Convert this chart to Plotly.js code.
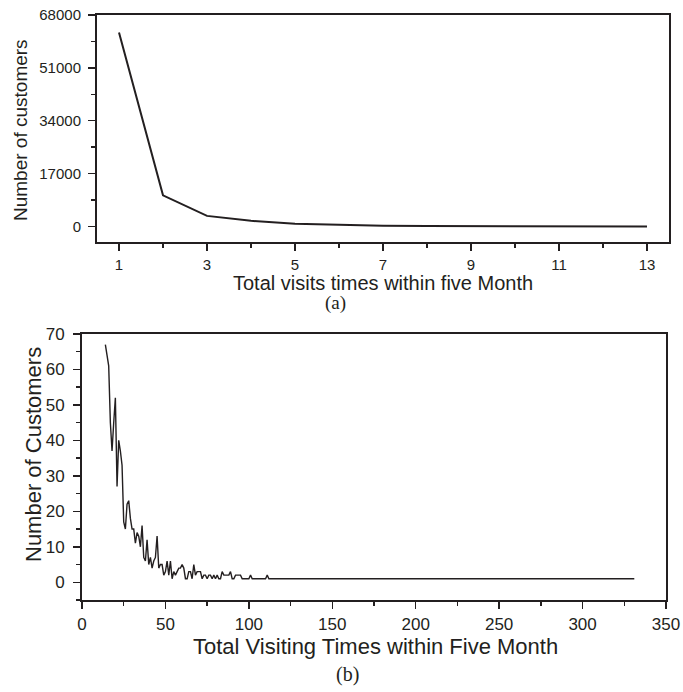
<!DOCTYPE html>
<html>
<head>
<meta charset="utf-8">
<script src="https://cdn.plot.ly/plotly-3.0.1.min.js"></script>
<style>
html,body{margin:0;padding:0;background:#fff;}
#chart{width:683px;height:692px;}
</style>
</head>
<body>
<div id="chart"></div>
<script>
// (a) visits 1..13 vs number of customers
const visitsA = [1, 2, 3, 4, 5, 6, 7, 8, 9, 10, 11, 12, 13];
const customersA = [62400, 10000, 3400, 1800, 900, 450, 230, 130, 80, 50, 30, 18, 10];
const yTicksA = [0, 17000, 34000, 51000, 68000];
const yTickTextA = ['0', '17000', '34000', '51000', '68000'];
const xTicksA = [1, 3, 5, 7, 9, 11, 13];

// (b) total visiting times vs number of customers
const visitsB = [14, 15, 16, 17, 18, 19, 20, 21, 22, 23, 24, 25, 26, 27, 28, 29, 30,
  31, 32, 33, 34, 35, 36, 37, 38, 39, 40, 41, 42, 43, 44, 45, 46, 47, 48, 49, 50,
  51, 52, 53, 54, 55, 56, 57, 58, 59, 60, 61, 62, 63, 64, 65, 66, 67, 68, 69, 70,
  71, 72, 73, 74, 75, 76, 77, 78, 79, 80, 81, 82, 83, 84, 85, 86, 87, 88, 89, 90,
  91, 92, 93, 94, 95, 96, 97, 98, 99, 100, 101, 102, 103, 104, 105, 106, 107, 108,
  109, 110, 111, 112, 114, 117, 121, 125, 130, 138, 145, 153, 162, 170, 184, 196,
  210, 228, 245, 262, 280, 301, 331];
const customersB = [67, 64, 61, 45, 37, 45, 52, 27, 40, 37, 33, 17, 15, 22, 23, 18, 15,
  15, 11, 14, 13, 10, 16, 7, 6, 12, 5, 7, 4, 6, 7, 13, 4, 5, 5, 2, 3,
  6, 2, 6, 1, 3, 2, 3, 4, 4, 5, 4, 1, 1, 3, 3, 1, 5, 2, 3, 3,
  3, 1, 2, 2, 1, 2, 2, 1, 2, 1, 2, 1, 1, 3, 2, 2, 2, 2, 3, 1,
  1, 2, 2, 2, 2, 1, 1, 1, 1, 1, 2, 1, 1, 1, 1, 1, 1, 1,
  1, 1, 2, 1, 1, 1, 1, 1, 1, 1, 1, 1, 1, 1, 1, 1,
  1, 1, 1, 1, 1, 1, 1];
const yTicksB = [0, 10, 20, 30, 40, 50, 60, 70];
const xTicksB = [0, 50, 100, 150, 200, 250, 300, 350];

const INK = '#231f20';
const SANS = '"Liberation Sans", Arial, sans-serif';
const SERIF = '"Liberation Serif", "Times New Roman", serif';

const W = 683, H = 692;
const dxA = [97 / W, 669 / W], dyA = [1 - 242 / H, 1 - 15 / H];
const dxB = [82 / W, 666 / W], dyB = [1 - 600 / H, 1 - 334 / H];

function baseAxis(extra) {
  return Object.assign({
    showgrid: false, zeroline: false, showline: true, linecolor: INK, linewidth: 2,
    ticks: 'outside', ticklen: 7, tickwidth: 1.5, tickcolor: INK, mirror: true,
    tickmode: 'array', fixedrange: true
  }, extra);
}

const traces = [
  {x: visitsA, y: customersA, type: 'scatter', mode: 'lines', xaxis: 'x', yaxis: 'y',
   line: {color: INK, width: 2}, hoverinfo: 'skip', showlegend: false},
  {x: visitsB, y: customersB, type: 'scatter', mode: 'lines', xaxis: 'x2', yaxis: 'y2',
   line: {color: INK, width: 1.4}, hoverinfo: 'skip', showlegend: false}
];

const layout = {
  width: W, height: H, margin: {l: 0, r: 0, t: 0, b: 0},
  paper_bgcolor: '#fff', plot_bgcolor: '#fff', showlegend: false,
  font: {family: SANS, color: INK},
  xaxis: baseAxis({domain: dxA, anchor: 'y', range: [0.5, 13.5], tickvals: xTicksA,
    tickfont: {size: 15, family: SANS, color: INK}, ticklabelstandoff: 1,
    minor: {tickmode: 'linear', tick0: 0, dtick: 2, ticks: 'outside', ticklen: 4, tickwidth: 1.5, tickcolor: INK}}),
  yaxis: baseAxis({domain: dyA, anchor: 'x', range: [-5000, 68000], tickvals: yTicksA, ticktext: yTickTextA,
    tickfont: {size: 15, family: SANS, color: INK}, ticklabelstandoff: 4,
    minor: {tickmode: 'linear', tick0: 8500, dtick: 17000, ticks: 'outside', ticklen: 4, tickwidth: 1.5, tickcolor: INK}}),
  xaxis3: {overlaying: 'x', anchor: 'y', side: 'top', range: [0.5, 13.5], showgrid: false, zeroline: false,
    showline: false, showticklabels: false, ticks: 'inside', ticklen: 7, tickwidth: 1.5, tickcolor: INK,
    tickmode: 'linear', tick0: 0, dtick: 2, fixedrange: true,
    minor: {tickmode: 'linear', tick0: 1, dtick: 2, ticks: 'inside', ticklen: 4, tickwidth: 1.5, tickcolor: INK}},
  yaxis3: {overlaying: 'y', anchor: 'x', side: 'right', range: [-5000, 68000], showgrid: false, zeroline: false,
    showline: false, showticklabels: false, ticks: 'inside', ticklen: 7, tickwidth: 1.5, tickcolor: INK,
    tickmode: 'linear', tick0: 0, dtick: 17000, fixedrange: true,
    minor: {tickmode: 'linear', tick0: 8500, dtick: 17000, ticks: 'inside', ticklen: 4, tickwidth: 1.5, tickcolor: INK}},

  xaxis2: baseAxis({domain: dxB, anchor: 'y2', range: [0, 350], tickvals: xTicksB,
    tickfont: {size: 17, family: SANS, color: INK}, ticklabelstandoff: 1,
    minor: {tickmode: 'linear', tick0: 25, dtick: 50, ticks: 'outside', ticklen: 4, tickwidth: 1.5, tickcolor: INK}}),
  yaxis2: baseAxis({domain: dyB, anchor: 'x2', range: [-5, 70], tickvals: yTicksB,
    tickfont: {size: 17, family: SANS, color: INK}, ticklabelstandoff: 5,
    minor: {tickmode: 'linear', tick0: 5, dtick: 10, ticks: 'outside', ticklen: 4, tickwidth: 1.5, tickcolor: INK}}),
  xaxis4: {overlaying: 'x2', anchor: 'y2', side: 'top', range: [0, 350], showgrid: false, zeroline: false,
    showline: false, showticklabels: false, ticks: 'inside', ticklen: 7, tickwidth: 1.5, tickcolor: INK,
    tickmode: 'linear', tick0: 0, dtick: 70, fixedrange: true,
    minor: {tickmode: 'linear', tick0: 35, dtick: 70, ticks: 'inside', ticklen: 4, tickwidth: 1.5, tickcolor: INK}},
  yaxis4: {overlaying: 'y2', anchor: 'x2', side: 'right', range: [-5, 70], showgrid: false, zeroline: false,
    showline: false, showticklabels: false, ticks: 'inside', ticklen: 7, tickwidth: 1.5, tickcolor: INK,
    tickmode: 'linear', tick0: -5, dtick: 15, fixedrange: true,
    minor: {tickmode: 'linear', tick0: 2.5, dtick: 15, ticks: 'inside', ticklen: 4, tickwidth: 1.5, tickcolor: INK}},

  annotations: [
    {text: 'Total visits times within five Month', xref: 'paper', yref: 'paper',
     x: 383 / W, y: 1 - 283 / H, xanchor: 'center', yanchor: 'middle', showarrow: false,
     font: {size: 20, family: SANS, color: INK}},
    {text: 'Number of customers', xref: 'paper', yref: 'paper', textangle: -90,
     x: 20 / W, y: 1 - 130 / H, xanchor: 'center', yanchor: 'middle', showarrow: false,
     font: {size: 19, family: SANS, color: INK}},
    {text: '(a)', xref: 'paper', yref: 'paper',
     x: 335 / W, y: 1 - 303 / H, xanchor: 'center', yanchor: 'middle', showarrow: false,
     font: {size: 19, family: SERIF, color: INK}},
    {text: 'Total Visiting Times within Five Month', xref: 'paper', yref: 'paper',
     x: 375 / W, y: 1 - 646 / H, xanchor: 'center', yanchor: 'middle', showarrow: false,
     font: {size: 22, family: SANS, color: INK}},
    {text: 'Number of Customers', xref: 'paper', yref: 'paper', textangle: -90,
     x: 33 / W, y: 1 - 455 / H, xanchor: 'center', yanchor: 'middle', showarrow: false,
     font: {size: 22, family: SANS, color: INK}},
    {text: '(b)', xref: 'paper', yref: 'paper',
     x: 347 / W, y: 1 - 674 / H, xanchor: 'center', yanchor: 'middle', showarrow: false,
     font: {size: 20, family: SERIF, color: INK}}
  ]
};

Plotly.newPlot('chart', traces, layout, {staticPlot: true, displayModeBar: false});
</script>
</body>
</html>
